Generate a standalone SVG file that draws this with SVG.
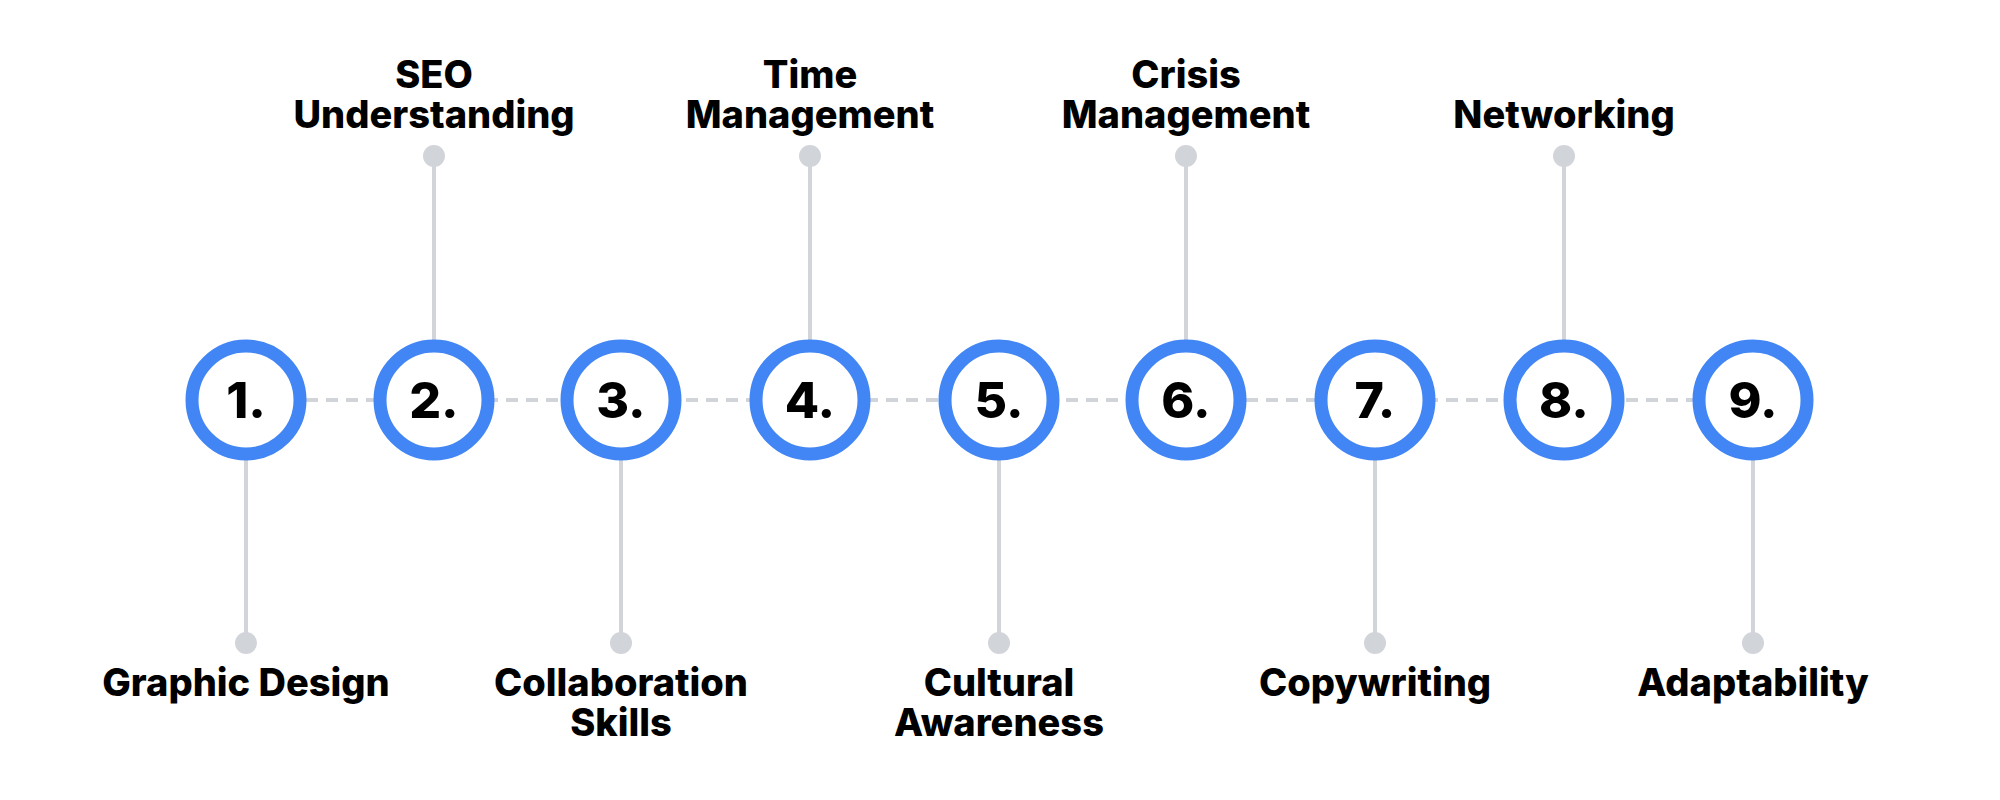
<svg xmlns="http://www.w3.org/2000/svg" width="2000" height="800" viewBox="0 0 2000 800">
<style>
.ring{fill:#fff;stroke:#4285f4;stroke-width:13}
.num{font-family:Inter,"Liberation Sans",sans-serif;font-weight:800;font-size:50px;fill:#000;text-anchor:middle}
.lbl{font-family:Inter,"Liberation Sans",sans-serif;font-weight:800;font-size:38px;fill:#000;text-anchor:middle}
.stem{stroke:#d1d4d9;stroke-width:4}
.dash{stroke:#d1d4d9;stroke-width:4;stroke-dasharray:12 8}
.dot{fill:#d1d4d9}
</style>
<rect width="2000" height="800" fill="#fff"/>
<g id="connectors">
<line class="dash" x1="246" y1="400" x2="1753" y2="400"/>
<line class="stem" x1="246" y1="400" x2="246" y2="643"/><circle class="dot" cx="246" cy="643" r="11"/>
<line class="stem" x1="434" y1="400" x2="434" y2="156"/><circle class="dot" cx="434" cy="156" r="11"/>
<line class="stem" x1="621" y1="400" x2="621" y2="643"/><circle class="dot" cx="621" cy="643" r="11"/>
<line class="stem" x1="810" y1="400" x2="810" y2="156"/><circle class="dot" cx="810" cy="156" r="11"/>
<line class="stem" x1="999" y1="400" x2="999" y2="643"/><circle class="dot" cx="999" cy="643" r="11"/>
<line class="stem" x1="1186" y1="400" x2="1186" y2="156"/><circle class="dot" cx="1186" cy="156" r="11"/>
<line class="stem" x1="1375" y1="400" x2="1375" y2="643"/><circle class="dot" cx="1375" cy="643" r="11"/>
<line class="stem" x1="1564" y1="400" x2="1564" y2="156"/><circle class="dot" cx="1564" cy="156" r="11"/>
<line class="stem" x1="1753" y1="400" x2="1753" y2="643"/><circle class="dot" cx="1753" cy="643" r="11"/>
</g>
<g id="n1"><circle class="ring" cx="246" cy="400" r="54"/><text class="num" x="246" y="418">1.</text><text class="lbl" x="246" y="696">Graphic Design</text></g>
<g id="n2"><circle class="ring" cx="434" cy="400" r="54"/><text class="num" x="434" y="418">2.</text><text class="lbl" x="434" y="88">SEO</text><text class="lbl" x="434" y="128">Understanding</text></g>
<g id="n3"><circle class="ring" cx="621" cy="400" r="54"/><text class="num" x="621" y="418">3.</text><text class="lbl" x="621" y="696">Collaboration</text><text class="lbl" x="621" y="736">Skills</text></g>
<g id="n4"><circle class="ring" cx="810" cy="400" r="54"/><text class="num" x="810" y="418">4.</text><text class="lbl" x="810" y="88">Time</text><text class="lbl" x="810" y="128">Management</text></g>
<g id="n5"><circle class="ring" cx="999" cy="400" r="54"/><text class="num" x="999" y="418">5.</text><text class="lbl" x="999" y="696">Cultural</text><text class="lbl" x="999" y="736">Awareness</text></g>
<g id="n6"><circle class="ring" cx="1186" cy="400" r="54"/><text class="num" x="1186" y="418">6.</text><text class="lbl" x="1186" y="88">Crisis</text><text class="lbl" x="1186" y="128">Management</text></g>
<g id="n7"><circle class="ring" cx="1375" cy="400" r="54"/><text class="num" x="1375" y="418">7.</text><text class="lbl" x="1375" y="696">Copywriting</text></g>
<g id="n8"><circle class="ring" cx="1564" cy="400" r="54"/><text class="num" x="1564" y="418">8.</text><text class="lbl" x="1564" y="128">Networking</text></g>
<g id="n9"><circle class="ring" cx="1753" cy="400" r="54"/><text class="num" x="1753" y="418">9.</text><text class="lbl" x="1753" y="696">Adaptability</text></g>
</svg>
